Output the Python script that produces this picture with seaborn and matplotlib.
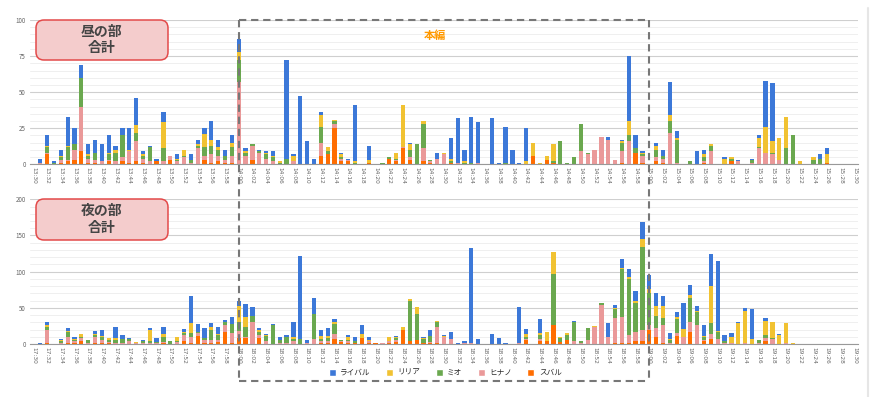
import numpy as np
import pandas as pd
import seaborn as sns
import matplotlib.pyplot as plt
from matplotlib.patches import FancyBboxPatch, Patch
from matplotlib.lines import Line2D
from matplotlib.transforms import IdentityTransform

sns.set_theme(style="white")
plt.rcParams['font.family'] = ['Noto Sans CJK JP', 'DejaVu Sans']

# series, top of stack first
series = ["ライバル", "リリア", "ミオ", "ヒナノ", "スバル"]
colors = ["#3c78d8", "#f1c232", "#6aa84f", "#ea9999", "#ff6d01"]

# one slot per minute, 13:30-15:30 and 17:30-19:30
day_labels = ["%d:%02d" % (13 + (30 + m) // 60, (30 + m) % 60) for m in range(121)]
night_labels = ["%d:%02d" % (17 + (30 + m) // 60, (30 + m) % 60) for m in range(121)]

# 昼の部
day_rival = [0, 3, 7, 1, 4, 20, 11, 9, 7, 9,
             12, 12, 3, 5, 15, 19, 2, 1, 2, 7,
             0, 3, 0, 4, 3, 4, 13, 5, 4, 5,
             9, 2, 0, 1, 1, 3, 0, 68, 1, 47,
             16, 4, 2, 0, 0, 1, 1, 39, 0, 10,
             0, 0, 0, 0, 0, 1, 0, 0, 0, 4,
             0, 14, 31, 8, 32, 28, 0, 32, 1, 25,
             10, 1, 23, 0, 0, 0, 0, 0, 0, 0,
             0, 0, 0, 0, 2, 0, 1, 45, 9, 1,
             0, 2, 4, 23, 5, 0, 0, 9, 3, 0,
             0, 1, 0, 1, 0, 1, 2, 32, 40, 0,
             0, 0, 0, 0, 0, 3, 4, 0, 0, 0, 0]
day_riria = [0, 0, 1, 0, 1, 1, 0, 0, 1, 0,
             0, 1, 2, 0, 1, 5, 1, 0, 0, 18,
             0, 1, 4, 0, 1, 9, 4, 2, 0, 3,
             6, 1, 0, 0, 1, 1, 1, 0, 4, 0,
             0, 0, 8, 3, 1, 2, 0, 1, 0, 2,
             0, 0, 0, 4, 29, 4, 0, 2, 0, 0,
             1, 2, 0, 1, 0, 0, 0, 0, 0, 0,
             0, 0, 2, 9, 1, 3, 12, 0, 0, 0,
             0, 0, 0, 0, 0, 0, 1, 10, 0, 1,
             0, 3, 0, 4, 1, 0, 0, 0, 2, 1,
             0, 4, 1, 0, 0, 0, 6, 18, 8, 15,
             22, 0, 2, 0, 2, 0, 6, 0, 0, 0, 0]
day_mio = [0, 0, 4, 1, 2, 9, 4, 20, 2, 5,
           0, 4, 6, 15, 0, 6, 2, 10, 0, 9,
           0, 1, 1, 2, 2, 6, 6, 4, 3, 6,
           15, 2, 1, 1, 3, 3, 1, 4, 0, 0,
           0, 0, 11, 2, 2, 1, 0, 1, 0, 0,
           0, 1, 1, 1, 0, 5, 14, 17, 1, 0,
           0, 1, 0, 1, 1, 0, 0, 0, 0, 1,
           0, 0, 0, 0, 0, 0, 1, 16, 1, 5,
           19, 1, 0, 0, 0, 0, 6, 4, 3, 1,
           0, 5, 2, 8, 16, 0, 2, 0, 3, 4,
           0, 0, 2, 0, 0, 2, 1, 0, 1, 0,
           11, 20, 0, 0, 3, 4, 0, 0, 0, 0, 0]
day_hinano = [0, 1, 1, 0, 2, 1, 7, 31, 3, 2,
              2, 1, 2, 3, 8, 14, 3, 2, 0, 2,
              3, 2, 5, 1, 11, 3, 6, 4, 2, 5,
              57, 6, 10, 8, 4, 2, 0, 0, 2, 0,
              0, 0, 9, 0, 3, 2, 1, 0, 0, 0,
              0, 0, 0, 1, 1, 2, 0, 9, 1, 4,
              7, 0, 1, 0, 0, 1, 0, 0, 0, 0,
              0, 0, 0, 0, 0, 0, 0, 0, 0, 0,
              9, 7, 10, 19, 17, 3, 8, 16, 0, 5,
              0, 3, 3, 22, 1, 0, 0, 0, 1, 9,
              0, 0, 0, 2, 0, 1, 11, 8, 7, 3,
              0, 0, 0, 0, 0, 0, 0, 0, 0, 0, 0]
day_subaru = [0, 0, 7, 0, 1, 2, 3, 9, 1, 1,
              0, 2, 0, 2, 1, 2, 1, 0, 2, 0,
              3, 0, 0, 0, 0, 3, 1, 2, 1, 1,
              0, 0, 3, 0, 0, 0, 0, 0, 0, 0,
              0, 0, 6, 7, 25, 2, 2, 0, 0, 1,
              0, 0, 4, 2, 11, 3, 0, 2, 1, 0,
              0, 1, 0, 0, 0, 0, 0, 0, 0, 0,
              0, 0, 0, 6, 0, 3, 1, 0, 0, 0,
              0, 0, 0, 0, 0, 0, 1, 0, 8, 1,
              0, 2, 1, 0, 0, 0, 0, 0, 1, 0,
              0, 0, 2, 0, 0, 0, 0, 0, 0, 0,
              0, 0, 0, 0, 0, 0, 1, 0, 0, 0, 0]

# 夜の部
night_rival = [0, 1, 4, 0, 2, 4, 2, 0, 0, 4,
               9, 0, 15, 5, 1, 0, 2, 2, 5, 9,
               0, 0, 4, 37, 11, 14, 6, 9, 2, 10,
               7, 17, 12, 2, 2, 2, 3, 2, 21, 115,
               3, 22, 9, 11, 3, 0, 2, 5, 12, 3,
               0, 0, 0, 2, 0, 0, 0, 2, 8, 0,
               2, 9, 1, 3, 132, 7, 0, 14, 8, 1,
               0, 50, 7, 0, 20, 0, 0, 0, 0, 2,
               0, 0, 0, 0, 20, 4, 12, 11, 13, 23,
               20, 19, 14, 8, 7, 35, 13, 7, 15, 45,
               97, 9, 6, 1, 5, 41, 0, 4, 0, 1,
               0, 0, 0, 0, 0, 0, 0, 0, 0, 0, 0]
night_riria = [0, 0, 3, 0, 1, 2, 1, 4, 0, 1,
               1, 2, 3, 0, 0, 1, 0, 16, 0, 5,
               0, 5, 2, 14, 1, 0, 4, 2, 1, 1,
               22, 14, 0, 3, 1, 0, 0, 1, 2, 0,
               0, 0, 4, 3, 3, 0, 4, 0, 6, 2,
               1, 1, 6, 1, 4, 3, 9, 1, 0, 1,
               1, 0, 0, 0, 0, 0, 0, 0, 0, 0,
               0, 0, 5, 0, 3, 12, 30, 1, 2, 0,
               0, 0, 2, 0, 0, 1, 2, 2, 4, 11,
               5, 13, 16, 2, 2, 11, 4, 2, 1, 51,
               2, 0, 8, 29, 44, 7, 1, 20, 22, 13,
               28, 1, 0, 0, 0, 0, 0, 0, 0, 0, 0]
night_mio = [0, 0, 3, 0, 2, 6, 2, 2, 4, 4,
             4, 3, 3, 5, 3, 1, 2, 2, 1, 6,
             4, 1, 3, 5, 1, 3, 14, 6, 4, 12,
             12, 15, 9, 4, 7, 26, 4, 7, 3, 7,
             1, 34, 3, 4, 14, 2, 2, 2, 0, 0,
             0, 0, 0, 3, 0, 55, 36, 5, 8, 7,
             1, 0, 0, 0, 0, 0, 0, 0, 0, 0,
             0, 0, 2, 0, 5, 0, 71, 5, 7, 26,
             3, 17, 0, 3, 0, 13, 65, 77, 40, 115,
             45, 17, 10, 3, 20, 0, 33, 18, 4, 15,
             9, 2, 0, 0, 0, 0, 3, 4, 1, 0,
             0, 0, 0, 0, 0, 0, 0, 0, 0, 0, 0]
night_hinano = [0, 0, 19, 0, 2, 9, 3, 4, 1, 8,
                5, 2, 2, 2, 4, 1, 2, 2, 2, 2,
                0, 3, 8, 8, 4, 3, 4, 3, 10, 13,
                10, 1, 30, 5, 4, 0, 2, 2, 4, 0,
                1, 7, 2, 2, 7, 1, 3, 1, 0, 2,
                0, 1, 3, 2, 0, 0, 0, 1, 2, 22,
                9, 7, 0, 1, 1, 0, 0, 0, 0, 0,
                0, 1, 2, 0, 3, 0, 0, 0, 0, 4,
                1, 5, 23, 54, 9, 35, 37, 12, 12, 15,
                7, 12, 24, 2, 4, 10, 15, 26, 2, 7,
                7, 2, 1, 0, 1, 0, 2, 4, 7, 0,
                1, 0, 0, 0, 0, 0, 0, 0, 0, 0, 0]
night_subaru = [0, 0, 1, 0, 0, 1, 1, 4, 0, 1,
                1, 1, 0, 0, 0, 0, 0, 0, 0, 1,
                0, 0, 4, 2, 11, 2, 1, 3, 16, 2,
                8, 8, 0, 8, 0, 0, 0, 0, 0, 0,
                0, 0, 2, 2, 7, 3, 1, 1, 8, 2,
                1, 0, 1, 3, 19, 4, 6, 1, 1, 2,
                0, 0, 0, 0, 0, 0, 0, 0, 0, 0,
                0, 0, 5, 0, 4, 4, 26, 3, 6, 0,
                0, 0, 0, 0, 0, 1, 1, 1, 4, 4,
                19, 10, 2, 0, 11, 0, 16, 0, 4, 7,
                0, 0, 0, 0, 0, 0, 0, 4, 0, 0,
                0, 0, 0, 0, 0, 0, 0, 0, 0, 0, 0]

day = [day_rival, day_riria, day_mio, day_hinano, day_subaru]
night = [night_rival, night_riria, night_mio, night_hinano, night_subaru]

W, H = 880, 397
fig = plt.figure(figsize=(W / 100, H / 100), dpi=100)
ax1 = fig.add_axes([30 / W, 1 - 164.3 / H, 828 / W, 144.3 / H])
ax2 = fig.add_axes([30 / W, 1 - 344 / H, 828 / W, 144.7 / H])


def draw(ax, data, labels, ymax, major, minor):
    n = len(labels)
    df = pd.DataFrame({
        "slot": np.tile(np.arange(n), len(series)),
        "who": np.repeat(series, n),
        "count": np.concatenate(data),
    })
    sns.histplot(data=df, x="slot", hue="who", weights="count", hue_order=series,
                 palette=colors, multiple="stack", discrete=True, shrink=0.62,
                 linewidth=0, alpha=1, legend=False, ax=ax)
    ax.set_xlim(-0.5, n - 0.5)
    ax.set_ylim(0, ymax)
    ax.set_yticks(np.arange(0, ymax + 1, major))
    ax.set_yticks(np.arange(0, ymax + 1, minor), minor=True)
    ax.set_xticks(np.arange(0, n, 2))
    ax.set_xticklabels(labels[::2], rotation=-90, fontsize=4.2, color="#666",
                       family="DejaVu Sans")
    ax.tick_params(axis="y", labelsize=4.5, labelcolor="#666", length=0, pad=3)
    ax.tick_params(axis="x", length=0, pad=2)
    ax.tick_params(which="minor", length=0)
    ax.grid(axis="y", which="major", color="#cfcfcf", lw=0.8)
    ax.grid(axis="y", which="minor", color="#ececec", lw=0.6)
    ax.set_axisbelow(True)
    for s in ["top", "right", "left"]:
        ax.spines[s].set_visible(False)
    ax.spines["bottom"].set_color("#999999")
    ax.spines["bottom"].set_linewidth(0.8)
    ax.set_xlabel("")
    ax.set_ylabel("")


draw(ax1, day, day_labels, 100, 25, 5)
draw(ax2, night, night_labels, 200, 50, 10)

# section boxes
for y0, h, txt in [(337, 40, "昼の部\n合計"), (157, 41, "夜の部\n合計")]:
    box = FancyBboxPatch((36, y0), 132, h, boxstyle="round,pad=0,rounding_size=8",
                         facecolor="#f4cccc", edgecolor="#e34a4a", lw=1.1,
                         transform=IdentityTransform())
    fig.add_artist(box)
    fig.text(102 / W, (y0 + h / 2) / H, txt, ha="center", va="center",
             fontsize=10, fontweight="bold", color="#444444", linespacing=1.25)

# dashed frame around 本編 (14:00-15:00 / 19:00)
inv = fig.transFigure.inverted()
xl = inv.transform(ax1.transData.transform((30, 0)))[0]
xr = inv.transform(ax1.transData.transform((90, 0)))[0]
yt, yb = 1 - 20 / H, 1 - 381 / H
for xs, ys in [([xl, xr], [yt, yt]), ([xl, xl], [yt, yb]),
               ([xr, xr], [yt, yb]), ([xl, xr], [yb, yb])]:
    fig.add_artist(Line2D(xs, ys, color="#777777", lw=1.5,
                          linestyle=(0, (3.5, 2.3)), transform=fig.transFigure))
fig.text(435 / W, 1 - 35 / H, "本編", ha="center", va="center", fontsize=8,
         fontweight="bold", color="#ff9900")

fig.add_artist(Line2D([868 / W, 868 / W], [0, 1 - 8 / H], color="#e6e6e6", lw=1.5,
                      transform=fig.transFigure))

handles = [Patch(facecolor=c, label=s) for s, c in zip(series, colors)]
fig.legend(handles=handles, loc="center", bbox_to_anchor=(0.506, 1 - 373 / H),
           ncol=5, frameon=False, fontsize=5.5, handlelength=0.9, handleheight=0.9,
           columnspacing=2.0, handletextpad=0.6)

fig.savefig("out.png", dpi=100)
